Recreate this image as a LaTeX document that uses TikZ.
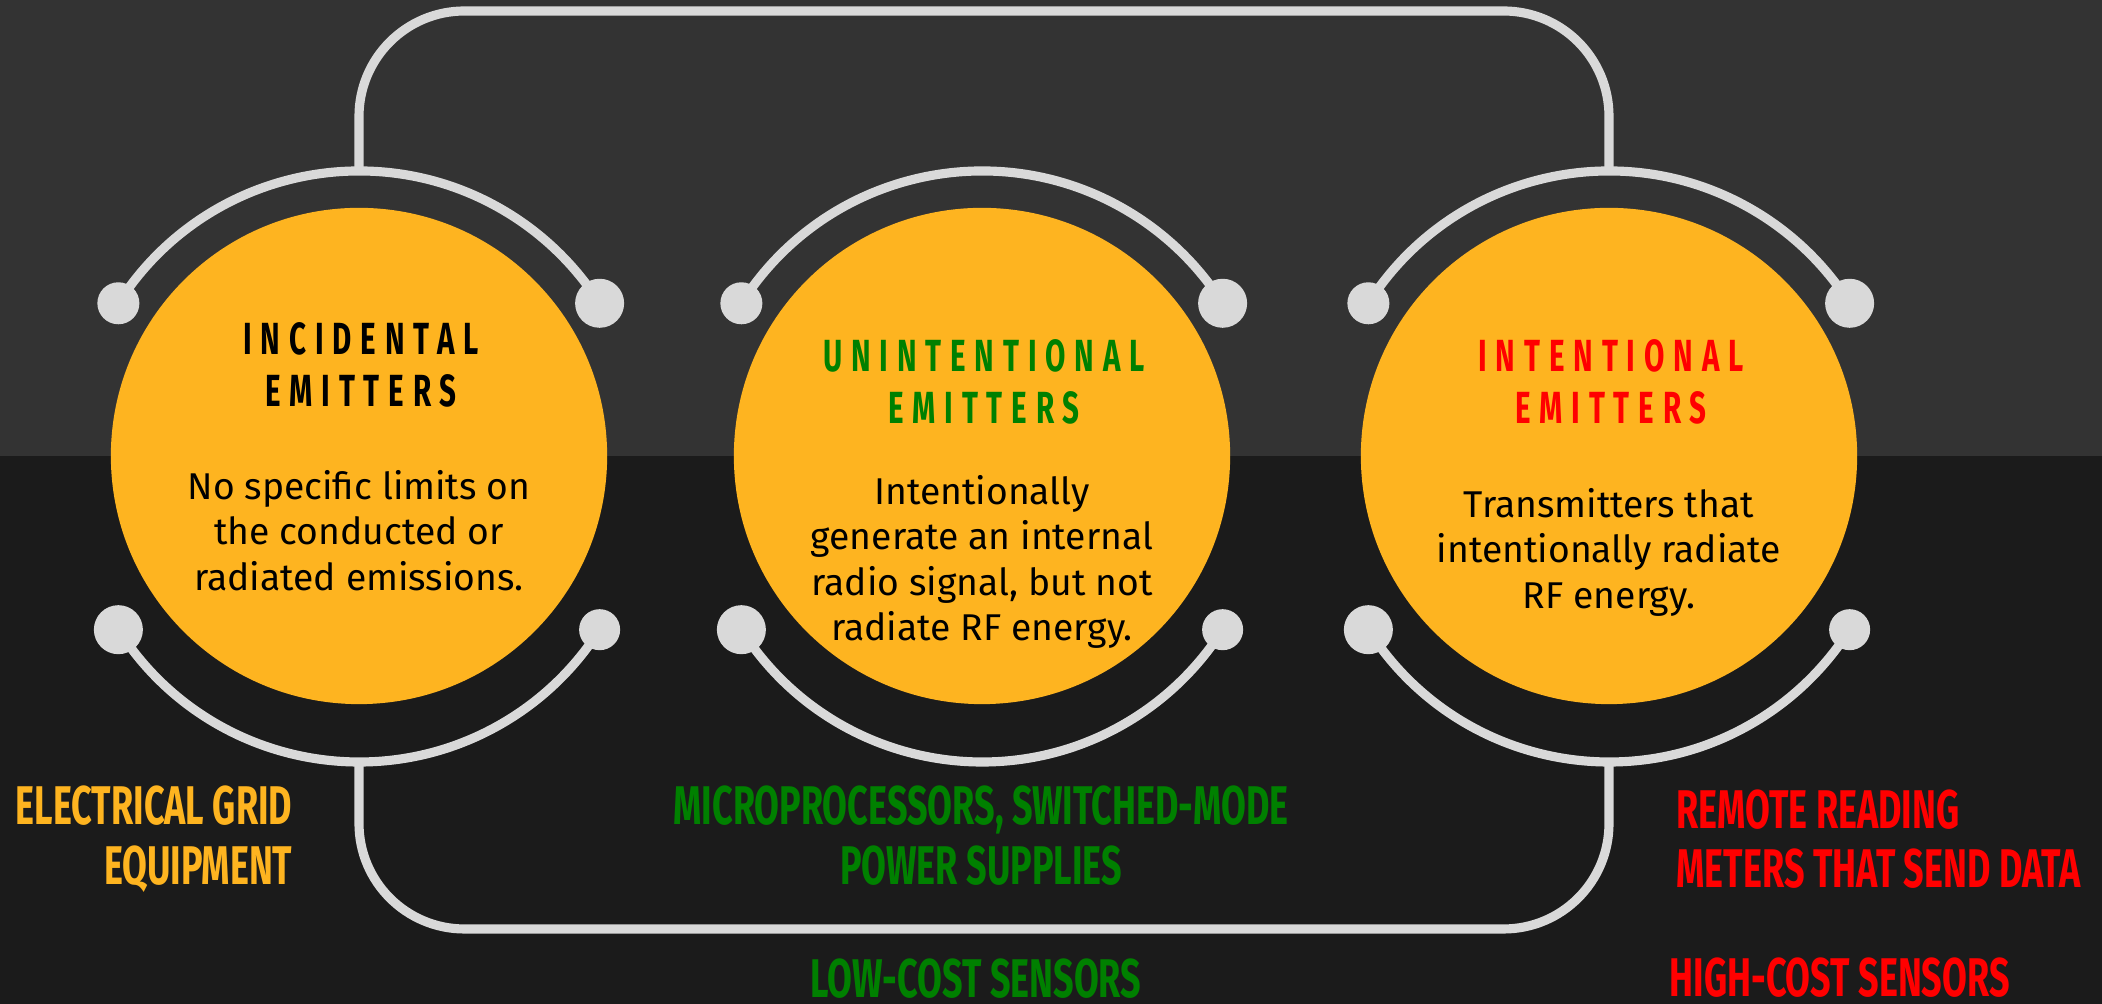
\documentclass[tikz,border=0pt]{standalone}
\usepackage{fontspec}
\setmainfont{Fira Sans}
\newfontfamily\headfont{Fira Sans}[FakeStretch=0.656, LetterSpace=19.7]
\newfontfamily\capsfont{Fira Sans}[FakeStretch=0.66]
\definecolor{bgtop}{RGB}{51,51,51}
\definecolor{bgbottom}{RGB}{27,27,27}
\definecolor{ringgray}{RGB}{217,217,217}
\definecolor{emamber}{RGB}{254,180,32}
\definecolor{emgreen}{RGB}{0,128,0}
\definecolor{emred}{RGB}{255,0,0}

\begin{document}
\begin{tikzpicture}[x=0.01cm, y=0.01cm,
  disc/.style={circle, fill=emamber, minimum size=4.96cm, inner sep=0pt},
  ring/.style={draw=ringgray, line width=2.6pt},
  knob/.style={circle, fill=ringgray, inner sep=0pt, minimum size=#1},
  knob/.default=4.5mm,
  heading/.style={font=\headfont\bfseries\fontsize{12.8}{14.65}\selectfont,
                  align=center, inner sep=0pt},
  blurb/.style={font=\fontsize{10.6}{12.95}\selectfont, align=center,
                inner sep=0pt},
  usecase/.style={font=\capsfont\bfseries\fontsize{15.5}{16.9}\selectfont,
                  inner sep=0pt}]
  \useasboundingbox (0,0) rectangle (2102,1004);

  % Two-tone background
  \fill[bgbottom] (0,0) rectangle (2102,1004);
  \fill[bgtop] (0,548) rectangle (2102,1004);

  % The three emitter classes
  \node[disc] (inc) at (359,548) {};
  \node[disc] (unint) at (982,548) {};
  \node[disc] (int) at (1609,548) {};

  % Centres of the lower arcs sit a little lower
  \coordinate (inc-low) at ([shift={(0,-21)}]inc.center);
  \coordinate (unint-low) at ([shift={(0,-21)}]unint.center);
  \coordinate (int-low) at ([shift={(0,-21)}]int.center);

  % Knobs at the arc ends
  \node[knob=4.2mm] (inc-nw) at ([shift={(147.6:285)}]inc.center) {};
  \node[knob=4.9mm] (inc-ne) at ([shift={(32.4:285)}]inc.center) {};
  \node[knob=4.9mm] (inc-sw) at ([shift={(212.4:285)}]inc-low) {};
  \node[knob=4.1mm] (inc-se) at ([shift={(327.6:285)}]inc-low) {};
  \node[knob=4.2mm] (unint-nw) at ([shift={(147.6:285)}]unint.center) {};
  \node[knob=4.9mm] (unint-ne) at ([shift={(32.4:285)}]unint.center) {};
  \node[knob=4.9mm] (unint-sw) at ([shift={(212.4:285)}]unint-low) {};
  \node[knob=4.1mm] (unint-se) at ([shift={(327.6:285)}]unint-low) {};
  \node[knob=4.2mm] (int-nw) at ([shift={(147.6:285)}]int.center) {};
  \node[knob=4.9mm] (int-ne) at ([shift={(32.4:285)}]int.center) {};
  \node[knob=4.9mm] (int-sw) at ([shift={(212.4:285)}]int-low) {};
  \node[knob=4.1mm] (int-se) at ([shift={(327.6:285)}]int-low) {};

  % Upper and lower arcs around each disc
  \draw[ring] (inc-nw.center) arc[start angle=147.6, end angle=32.4, radius=285];
  \draw[ring] (inc-sw.center) arc[start angle=212.4, end angle=327.6, radius=285];
  \draw[ring] (unint-nw.center) arc[start angle=147.6, end angle=32.4, radius=285];
  \draw[ring] (unint-sw.center) arc[start angle=212.4, end angle=327.6, radius=285];
  \draw[ring] (int-nw.center) arc[start angle=147.6, end angle=32.4, radius=285];
  \draw[ring] (int-sw.center) arc[start angle=212.4, end angle=327.6, radius=285];

  % Frame joining the outer two discs
  \coordinate (inc-n) at ([shift={(0,285)}]inc.center);
  \coordinate (int-n) at ([shift={(0,285)}]int.center);
  \coordinate (inc-s) at ([shift={(0,-285)}]inc-low);
  \coordinate (int-s) at ([shift={(0,-285)}]int-low);
  \coordinate (ceil) at (0,993);
  \coordinate (floor) at (0,75);
  \draw[ring, rounded corners=30pt] (inc-n) -- (inc-n |- ceil)
    -- (int-n |- ceil) -- (int-n);
  \draw[ring, rounded corners=30pt] (inc-s) -- (inc-s |- floor)
    -- (int-s |- floor) -- (int-s);

  % Titles and descriptions
  \node[heading] (inc-title) at (361,639) {INCIDENTAL\\EMITTERS};
  \node[blurb] (inc-text) at (359,473.5)
    {No specific limits on\\the conducted or\\radiated emissions.};
  \node[heading, text=emgreen] (unint-title) at (984,622)
    {UNINTENTIONAL\\EMITTERS};
  \node[blurb] (unint-text) at (982,442)
    {Intentionally\\generate an internal\\radio signal, but not\\radiate RF energy.};
  \node[heading, text=emred] (int-title) at (1611,622) {INTENTIONAL\\EMITTERS};
  \node[blurb] (int-text) at (1609,452)
    {Transmitters that\\intentionally radiate\\RF energy.};

  % Examples below the discs
  \node[usecase, text=emamber, align=right, anchor=east] (grid) at (293,165)
    {ELECTRICAL GRID\\EQUIPMENT};
  \node[usecase, text=emgreen, align=center] (smps) at (981,168.5)
    {MICROPROCESSORS, SWITCHED-MODE\\POWER SUPPLIES};
  \node[usecase, text=emgreen] (lowcost) at (976,25) {LOW-COST SENSORS};
  \node[usecase, text=emred, align=left, anchor=west] (meters) at (1676,165)
    {REMOTE READING\\METERS THAT SEND DATA};
  \node[usecase, text=emred, anchor=west] (highcost) at (1669,26)
    {HIGH-COST SENSORS};
\end{tikzpicture}
\end{document}
